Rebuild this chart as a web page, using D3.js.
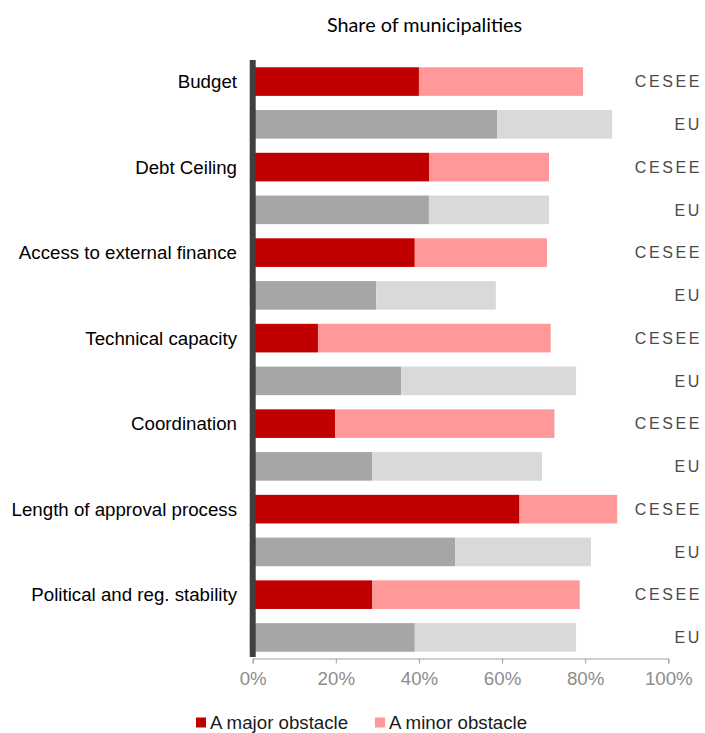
<!DOCTYPE html>
<html><head><meta charset="utf-8">
<script src="https://cdn.jsdelivr.net/npm/d3@7"></script>
<style>body{margin:0;background:#fff}svg{display:block}</style>
</head><body><svg id="c" width="705" height="733"></svg>
<script>
const categories = ["Budget","Debt Ceiling","Access to external finance","Technical capacity","Coordination","Length of approval process","Political and reg. stability"];
const groups = ["CESEE","EU"];
const majorCESEE = [40.0, 42.5, 39.0, 15.7, 19.8, 64.2, 28.8];
const totalCESEE = [79.5, 71.3, 70.8, 71.7, 72.6, 87.7, 78.7];
const majorEU = [58.8, 42.4, 29.7, 35.7, 28.7, 48.7, 39.0];
const totalEU = [86.5, 71.3, 58.5, 77.8, 69.6, 81.4, 77.8];
const ticks = [0,20,40,60,80,100];
const legendLabels = ["A major obstacle","A minor obstacle"];

const rows = [];
categories.forEach((c,i)=>{
  rows.push({cat:c, grp:"CESEE", major:majorCESEE[i], minor:totalCESEE[i]-majorCESEE[i]});
  rows.push({cat:c, grp:"EU", major:majorEU[i], minor:totalEU[i]-majorEU[i]});
});
const colors = {CESEE:["#C00000","#FF9999"], EU:["#A6A6A6","#D9D9D9"]};
const sans = "'Liberation Sans', Arial, sans-serif";

const svg = d3.select("#c");
const x = d3.scaleLinear().domain([0,100]).range([252.7,668.3]);
const y = d3.scaleBand().domain(rows.map((r,i)=>i)).range([60.2,658.8]).paddingInner(0.331).paddingOuter(0.1655);

// title
svg.append("text").attr("x",424.5).attr("y",31.5).attr("text-anchor","middle")
  .attr("font-family","Lato, 'Open Sans', sans-serif").attr("font-size",19.8).attr("fill","#000")
  .text("Share of municipalities");

// bars
const g = svg.append("g");
rows.forEach((r,i)=>{
  g.append("rect").attr("x",x(0)).attr("y",y(i)).attr("width",x(r.major)-x(0)).attr("height",y.bandwidth())
    .attr("fill",colors[r.grp][0]);
  g.append("rect").attr("x",x(r.major)).attr("y",y(i)).attr("width",x(r.major+r.minor)-x(r.major)).attr("height",y.bandwidth())
    .attr("fill",colors[r.grp][1]);
  g.append("text").attr("x",702).attr("y",y(i)+y.bandwidth()/2).attr("dy","0.36em")
    .attr("text-anchor","end").attr("font-family",sans)
    .attr("font-size",16).attr("letter-spacing","2.6px").attr("fill","#4a4a4a").text(r.grp);
});

// category labels
categories.forEach((c,i)=>{
  const idx = i*2;
  svg.append("text").attr("x",237).attr("y",y(idx)+y.bandwidth()/2).attr("dy","0.36em")
    .attr("text-anchor","end").attr("font-family",sans)
    .attr("font-size",18.7).attr("fill","#000").text(c);
});

// x axis
const xa = svg.append("g").attr("transform","translate(0,658.5)")
  .call(d3.axisBottom(x).tickValues(ticks).tickSize(5).tickPadding(8).tickFormat(d=>d+"%"));
xa.select(".domain").attr("stroke","#a0a0a0");
xa.selectAll(".tick line").attr("stroke","#a0a0a0");
xa.selectAll(".tick text").attr("font-family",sans).attr("font-size",18.7).attr("fill","#8c8c8c");

// left dark axis line
svg.append("line").attr("x1",x(0)).attr("x2",x(0)).attr("y1",60).attr("y2",657)
  .attr("stroke","#404040").attr("stroke-width",6);

// legend
const legX = [196,375];
legendLabels.forEach((l,i)=>{
  svg.append("rect").attr("x",legX[i]).attr("y",717.5).attr("width",10).attr("height",10).attr("fill",colors.CESEE[i]);
  svg.append("text").attr("x",legX[i]+14).attr("y",728.5).attr("font-family",sans)
    .attr("font-size",18.7).attr("fill","#1a1a1a").text(l);
});
</script></body></html>
